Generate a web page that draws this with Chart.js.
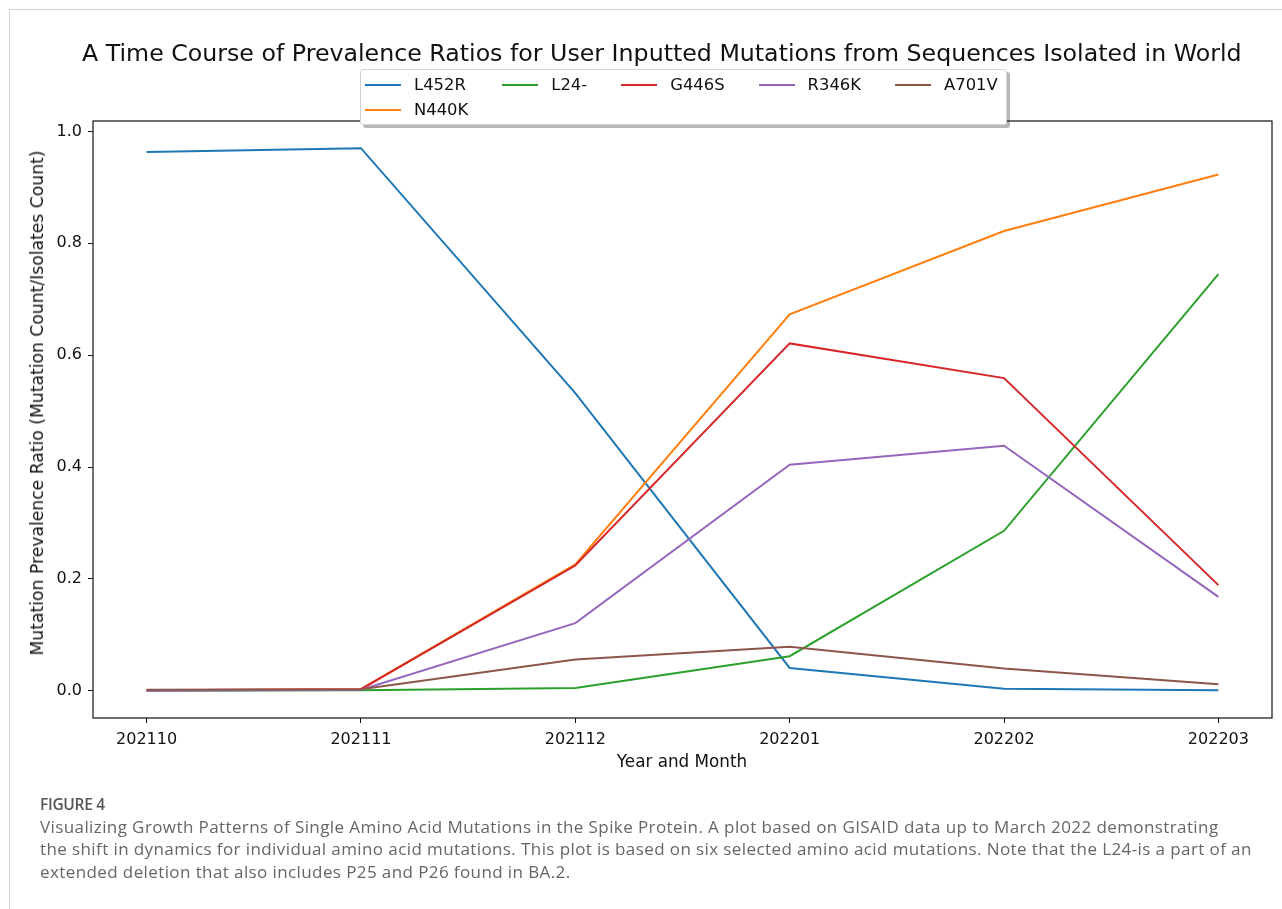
<!DOCTYPE html>
<html>
<head>
<meta charset="utf-8">
<script src="https://cdn.jsdelivr.net/npm/chart.js@4/dist/chart.umd.min.js"></script>
<style>
  html, body { margin: 0; padding: 0; background: #fff; }
  #wrap { position: relative; width: 1282px; height: 909px; overflow: hidden; }
  #frame { position: absolute; left: 9px; top: 9px; width: 1300px; height: 1000px;
    border-left: 1px solid #d0d0d0; border-top: 1px solid #d0d0d0; }
  #chart { position: absolute; left: 0; top: 0; }
  .txt { position: absolute; font-family: 'DejaVu Sans', sans-serif; color: #111; white-space: nowrap; }
  #title { left: 82px; top: 39px; font-size: 23.7px; line-height: 28px; }
  #xtitle { left: 582px; width: 200px; text-align: center; top: 751px; font-size: 16.8px; line-height: 20px; }
  #ytitle { left: 37px; top: 403px; font-size: 17.2px; line-height: 20px; transform: translate(-50%, -50%) rotate(-90deg); }
  #legend { position: absolute; left: 360px; top: 69px; width: 637px; height: 50px; padding: 2px 4px;
    background: #fff; border: 1px solid #d4d4d4; border-radius: 3px; box-shadow: 3px 3px 0 rgba(0,0,0,0.28);
    display: grid; grid-template-rows: 25px 25px; grid-template-columns: repeat(5, max-content); column-gap: 34px;
    font-family: 'DejaVu Sans', sans-serif; font-size: 16.4px; color: #111; }
  .item { display: flex; align-items: center; }
  .item i { display: inline-block; width: 36px; height: 2px; margin-right: 13px; }
  #caption { position: absolute; left: 40px; top: 793px; font-family: 'Open Sans', sans-serif; color: #666; font-size: 17px; letter-spacing: 0.4px; line-height: 22.5px; white-space: nowrap; }
  #caption b { display: block; font-weight: 600; color: #555; font-size: 15.5px; letter-spacing: -0.3px; margin-bottom: 0; }
</style>
</head>
<body>
<div id="wrap">
  <div id="frame"></div>
  <canvas id="chart" width="1282" height="909"></canvas>
  <div class="txt" id="title">A Time Course of Prevalence Ratios for User Inputted Mutations from Sequences Isolated in World</div>
  <div class="txt" id="xtitle">Year and Month</div>
  <div class="txt" id="ytitle">Mutation Prevalence Ratio (Mutation Count/Isolates Count)</div>
  <div id="legend"></div>
  <div id="caption">
    <b>FIGURE 4</b>
    Visualizing Growth Patterns of Single Amino Acid Mutations in the Spike Protein. A plot based on GISAID data up to March 2022 demonstrating<br>
    the shift in dynamics for individual amino acid mutations. This plot is based on six selected amino acid mutations. Note that the L24-is a part of an<br>
    extended deletion that also includes P25 and P26 found in BA.2.
  </div>
</div>
<script>
// months on the x axis
const months = ['202110', '202111', '202112', '202201', '202202', '202203'];
const yTicks = [0, 0.2, 0.4, 0.6, 0.8, 1.0];

// prevalence ratio per mutation, one value per month
const L452R = [0.963, 0.970, 0.532, 0.041, 0.004, 0.001];
const N440K = [0.001, 0.003, 0.226, 0.673, 0.822, 0.923];
const L24del = [0.000, 0.001, 0.005, 0.062, 0.286, 0.745];
const G446S = [0.001, 0.003, 0.224, 0.621, 0.559, 0.189];
const R346K = [0.000, 0.002, 0.121, 0.404, 0.438, 0.168];
const A701V = [0.002, 0.003, 0.056, 0.079, 0.040, 0.012];

const seriesNames = ['L452R', 'N440K', 'L24-', 'G446S', 'R346K', 'A701V'];
const seriesData = [L452R, N440K, L24del, G446S, R346K, A701V];
const seriesColors = ['#1f77b4', '#ff7f0e', '#2ca02c', '#d62728', '#9467bd', '#8c564b'];

// matplotlib-like legend: 5 columns, filled column by column (first column gets 2)
const legendEl = document.getElementById('legend');
const nCol = 5;
const nRow = Math.ceil(seriesNames.length / nCol);
const perCol = [];
for (let c = 0; c < nCol; c++) perCol.push(c < seriesNames.length % nCol || seriesNames.length % nCol === 0 ? nRow : nRow - 1);
let k = 0;
perCol.forEach((count, c) => {
  for (let r = 0; r < count; r++, k++) {
    const item = document.createElement('div');
    item.className = 'item';
    item.style.gridColumn = c + 1;
    item.style.gridRow = r + 1;
    item.innerHTML = `<i style="background:${seriesColors[k]}"></i><span>${seriesNames[k]}</span>`;
    legendEl.appendChild(item);
  }
});

// all four spines
const spines = {
  id: 'spines',
  afterDatasetsDraw(chart) {
    const { ctx, chartArea: a } = chart;
    ctx.save();
    ctx.strokeStyle = '#111';
    ctx.lineWidth = 1.2;
    ctx.strokeRect(a.left, a.top, a.right - a.left, a.bottom - a.top);
    ctx.restore();
  },
};

const tickFont = { family: "'DejaVu Sans', sans-serif", size: 16 };

new Chart(document.getElementById('chart'), {
  type: 'line',
  data: {
    datasets: seriesNames.map((name, i) => ({
      label: name,
      data: seriesData[i].map((v, j) => ({ x: j, y: v })),
      borderColor: seriesColors[i],
      backgroundColor: seriesColors[i],
      borderWidth: 2,
      pointRadius: 0,
      tension: 0,
      order: seriesNames.length - i,
    })),
  },
  options: {
    responsive: false,
    animation: false,
    layout: { padding: { left: 0, top: 121, right: 10, bottom: 0 } },
    plugins: { legend: { display: false }, tooltip: { enabled: false } },
    scales: {
      x: {
        type: 'linear',
        min: -0.25,
        max: 5.25,
        afterBuildTicks: s => { s.ticks = months.map((_, i) => ({ value: i })); },
        afterFit: s => { s.height = 191; },
        grid: { drawOnChartArea: false, drawTicks: true, tickLength: 5, tickColor: '#111' },
        border: { display: false },
        ticks: { color: '#111', font: tickFont, padding: 7, maxRotation: 0, callback: v => months[v] },
      },
      y: {
        min: -0.0485,
        max: 1.0185,
        afterBuildTicks: s => { s.ticks = yTicks.map(v => ({ value: v })); },
        afterFit: s => { s.width = 93; },
        grid: { drawOnChartArea: false, drawTicks: true, tickLength: 5, tickColor: '#111' },
        border: { display: false },
        ticks: { color: '#111', font: tickFont, padding: 6, callback: v => v.toFixed(1) },
      },
    },
  },
  plugins: [spines],
});
</script>
</body>
</html>
